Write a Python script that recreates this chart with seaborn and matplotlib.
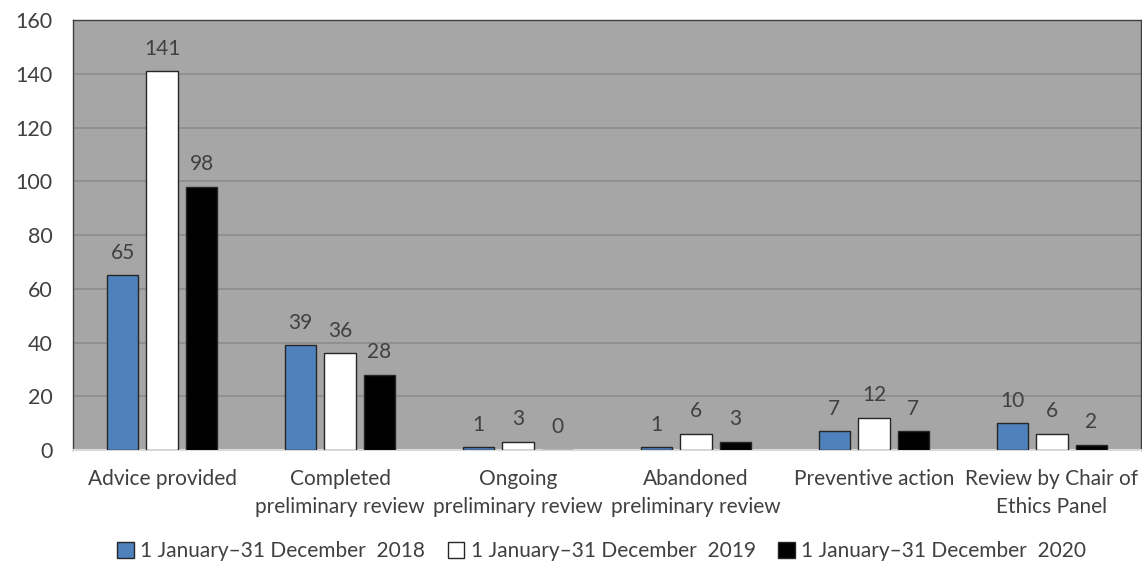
import matplotlib
matplotlib.use("Agg")
import matplotlib.pyplot as plt
import seaborn as sns
import pandas as pd

categories = ["Advice provided", "Completed\npreliminary review", "Ongoing\npreliminary review",
              "Abandoned\npreliminary review", "Preventive action", "Review by Chair of\nEthics Panel"]
periods = ["1 January\u201331 December  2018", "1 January\u201331 December  2019",
           "1 January\u201331 December  2020"]
values_2018 = [65, 39, 1, 1, 7, 10]
values_2019 = [141, 36, 3, 6, 12, 6]
values_2020 = [98, 28, 0, 3, 7, 2]
colors = ["#4F81BD", "#FFFFFF", "#000000"]

df = pd.DataFrame({
    "category": categories * 3,
    "period": [periods[0]] * 6 + [periods[1]] * 6 + [periods[2]] * 6,
    "value": values_2018 + values_2019 + values_2020,
})

sns.set_theme(style="white")
plt.rcParams["font.family"] = ["Lato", "DejaVu Sans"]

fig = plt.figure(figsize=(11.42, 5.62), dpi=100)
ax = fig.add_axes([0.064, 0.1993, 0.935, 0.765])
ax.set_facecolor("#A6A6A6")

sns.barplot(data=df, x="category", y="value", hue="period", order=categories,
            hue_order=periods, palette=colors, saturation=1, width=0.666, gap=0.2,
            edgecolor="#262626", linewidth=1.0, ax=ax, legend=True, zorder=3)

ax.set_ylim(0, 160)
ax.set_yticks(range(0, 161, 20))
ax.set_xlim(-0.5, 5.5)
ax.yaxis.grid(True, color="#8C8C8C", linewidth=1.2, zorder=0)
ax.set_axisbelow(True)
ax.set_xlabel("")
ax.set_ylabel("")
ax.tick_params(axis="y", labelsize=15.5, labelcolor="#404040", length=0, pad=15)
ax.tick_params(axis="x", labelsize=15, labelcolor="#404040", length=0, pad=14)
for lbl in ax.get_xticklabels():
    lbl.set_linespacing(1.45)

for side in ["top", "left", "right"]:
    ax.spines[side].set_color("#404040")
    ax.spines[side].set_linewidth(1.0)
ax.spines["bottom"].set_color("#D9D9D9")
ax.spines["bottom"].set_linewidth(1.5)

for container in ax.containers:
    ax.bar_label(container, fmt="%d", padding=9, fontsize=15, color="#404040")

handles, labels = ax.get_legend_handles_labels()
ax.legend(handles, labels, loc="center", bbox_to_anchor=(0.495, -0.236), ncol=3,
          frameon=False, fontsize=15, labelcolor="#404040", handlelength=0.8,
          handleheight=0.8, handletextpad=0.3, columnspacing=1.1, borderaxespad=0)

fig.savefig("out.png", dpi=100)
